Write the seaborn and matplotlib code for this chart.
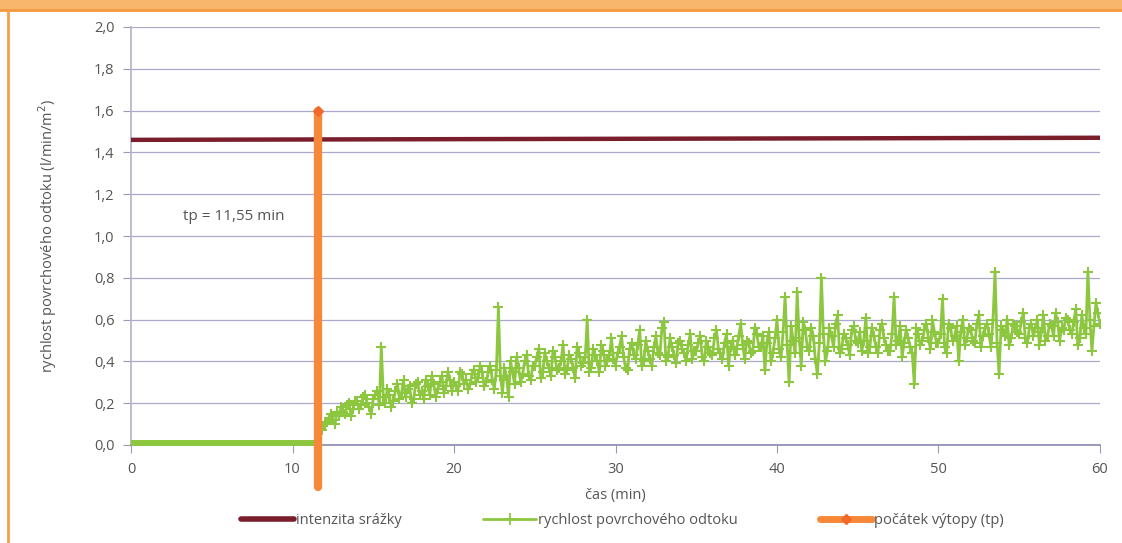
import numpy as np
import pandas as pd
import matplotlib
matplotlib.use("Agg")
import matplotlib.pyplot as plt
import seaborn as sns
from matplotlib.lines import Line2D
from matplotlib.patches import Rectangle

# ---------------- data ----------------
tp = 11.55                       # počátek výtopy (min)
tp_top = 1.6
tp_bottom = -0.2
rain_t = [0.0, 60.0]
rain_v = [1.46, 1.47]            # intenzita srážky

# flat part before ponding (0 .. 11.5 min, every 0.1 min)
t_before = list(np.arange(0.0, 11.51, 0.1))
v_before = [0.0] * len(t_before)

# runoff after ponding: 11.55, 11.8, then every 0.25 min from 12.0
v_after = [
    0.00, 0.07,
    0.10, 0.13, 0.12, 0.16,
    0.18, 0.15, 0.20, 0.17,
    0.21, 0.19, 0.24, 0.18,
    0.22, 0.26, 0.47, 0.20,
    0.24, 0.21, 0.29, 0.25,
    0.23, 0.28, 0.22, 0.30,
    0.26, 0.31, 0.24, 0.29,
    0.27, 0.33, 0.28, 0.31,
    0.30, 0.26, 0.34, 0.31,
    0.29, 0.36, 0.32, 0.35,
    0.30, 0.38, 0.27, 0.66,
    0.25, 0.33, 0.40, 0.29,
    0.37, 0.34, 0.43, 0.31,
    0.38, 0.46, 0.35, 0.40,
    0.33, 0.42, 0.37, 0.48,
    0.36, 0.41, 0.32, 0.44,
    0.39, 0.60, 0.37, 0.43,
    0.35, 0.45, 0.40, 0.51,
    0.38, 0.47, 0.42, 0.36,
    0.49, 0.41, 0.55, 0.40,
    0.45, 0.38, 0.52, 0.43,
    0.59, 0.42, 0.47, 0.39,
    0.50, 0.44, 0.48, 0.41,
    0.45, 0.52, 0.40, 0.47,
    0.43, 0.55, 0.44, 0.49,
    0.38, 0.50, 0.46, 0.58,
    0.41, 0.49, 0.45, 0.53,
    0.47, 0.36, 0.54, 0.44,
    0.60, 0.42, 0.71, 0.30,
    0.50, 0.73, 0.38, 0.55,
    0.45, 0.52, 0.34, 0.80,
    0.40, 0.56, 0.47, 0.62,
    0.46, 0.51, 0.43, 0.57,
    0.49, 0.45, 0.61, 0.47,
    0.52, 0.44, 0.58, 0.48,
    0.45, 0.71, 0.50, 0.42,
    0.55, 0.47, 0.29, 0.53,
    0.50, 0.58, 0.46, 0.54,
    0.49, 0.70, 0.44, 0.56,
    0.52, 0.40, 0.60, 0.51,
    0.55, 0.49, 0.62, 0.52,
    0.58, 0.47, 0.83, 0.34,
    0.55, 0.60, 0.51, 0.57,
    0.53, 0.63, 0.49, 0.58,
    0.56, 0.48, 0.62, 0.52,
    0.57, 0.63, 0.50, 0.55,
    0.60, 0.53, 0.65, 0.51,
    0.56, 0.83, 0.45, 0.68,
    0.58,
]
t_after = [11.55, 11.8] + list(np.arange(12.0, 60.01, 0.25))

# readings between the above samples (12.125, 12.375, ... 59.875)
v_mid = [
    0.11, 0.15, 0.10, 0.14,
    0.16, 0.19, 0.14, 0.21,
    0.17, 0.23, 0.20, 0.15,
    0.24, 0.19, 0.23, 0.27,
    0.18, 0.26, 0.22, 0.31,
    0.27, 0.20, 0.29, 0.24,
    0.22, 0.28, 0.33, 0.23,
    0.30, 0.25, 0.35, 0.26,
    0.28, 0.35, 0.29, 0.27,
    0.34, 0.30, 0.38, 0.28,
    0.35, 0.31, 0.36, 0.33,
    0.37, 0.23, 0.35, 0.42,
    0.30, 0.40, 0.33, 0.38,
    0.42, 0.32, 0.44, 0.37,
    0.45, 0.36, 0.40, 0.34,
    0.43, 0.37, 0.47, 0.38,
    0.42, 0.35, 0.46, 0.40,
    0.48, 0.38, 0.43, 0.41,
    0.44, 0.52, 0.37, 0.46,
    0.43, 0.48, 0.38, 0.50,
    0.41, 0.47, 0.44, 0.56,
    0.40, 0.51, 0.43, 0.49,
    0.46, 0.40, 0.53, 0.45,
    0.49, 0.42, 0.50, 0.44,
    0.51, 0.46, 0.41, 0.53,
    0.47, 0.43, 0.52, 0.48,
    0.50, 0.44, 0.56, 0.47,
    0.52, 0.49, 0.40, 0.51,
    0.46, 0.54, 0.48, 0.57,
    0.44, 0.51, 0.59, 0.47,
    0.56, 0.41, 0.49, 0.53,
    0.45, 0.52, 0.58, 0.44,
    0.53, 0.48, 0.55, 0.50,
    0.54, 0.50, 0.44, 0.56,
    0.47, 0.55, 0.51, 0.45,
    0.53, 0.48, 0.57, 0.49,
    0.51, 0.44, 0.56, 0.48,
    0.55, 0.51, 0.60, 0.49,
    0.53, 0.47, 0.58, 0.50,
    0.57, 0.54, 0.48, 0.56,
    0.50, 0.58, 0.47, 0.56,
    0.53, 0.60, 0.49, 0.57,
    0.52, 0.48, 0.58, 0.54,
    0.59, 0.51, 0.56, 0.52,
    0.60, 0.54, 0.50, 0.58,
    0.52, 0.59, 0.56, 0.61,
    0.55, 0.59, 0.48, 0.62,
    0.53, 0.60, 0.57, 0.63,
]
t_mid = list(np.arange(12.125, 59.9, 0.25))

x_ticks = [0, 10, 20, 30, 40, 50, 60]
y_ticks = [0.0, 0.2, 0.4, 0.6, 0.8, 1.0, 1.2, 1.4, 1.6, 1.8, 2.0]
y_tick_labels = ["0,0", "0,2", "0,4", "0,6", "0,8", "1,0", "1,2", "1,4", "1,6", "1,8", "2,0"]

label_rain = "intenzita srážky"
label_runoff = "rychlost povrchového odtoku"
label_tp = "počátek výtopy (tp)"
annot = "tp = 11,55 min"
xlabel = "čas (min)"
ylabel = "rychlost povrchového odtoku (l/min/m$^2$)"

# ---------------- style ----------------
sns.set_theme(style="white")
plt.rcParams["font.family"] = ["Open Sans", "DejaVu Sans"]

GREEN = "#8dc63f"
MAROON = "#7a1e2c"
ORANGE = "#f7883a"
GRID = "#a9a9cc"
TXT = "#555555"

df = pd.DataFrame({"t": t_before + t_after + t_mid,
                   "v": v_before + v_after + v_mid}).sort_values("t")

fig = plt.figure(figsize=(11.22, 5.43), dpi=100)
ax = fig.add_axes([131 / 1122, (543 - 445) / 543, (1100 - 131) / 1122, (445 - 27) / 543])

# frame decoration
fig.patches.append(Rectangle((0, 1 - 10 / 543), 1, 10 / 543, transform=fig.transFigure,
                             facecolor="#f8b56c", edgecolor="none", zorder=0))
fig.add_artist(Line2D([0, 1], [1 - 10 / 543, 1 - 10 / 543], transform=fig.transFigure,
                      color="#f39a3c", lw=2))
fig.add_artist(Line2D([8 / 1122, 8 / 1122], [0, 1 - 10 / 543], transform=fig.transFigure,
                      color="#f5a04a", lw=2))

for y in y_ticks[1:]:
    ax.axhline(y, color=GRID, lw=0.9, zorder=1)

sns.lineplot(data=df, x="t", y="v", ax=ax, color=GREEN, lw=2.0, marker="+",
             markersize=7.5, markeredgewidth=1.5, markeredgecolor=GREEN,
             estimator=None, sort=False, zorder=3)
sns.lineplot(x=rain_t, y=rain_v, ax=ax, color=MAROON, lw=3.2, estimator=None, zorder=4)
ax.plot([tp, tp], [tp_bottom, tp_top], color=ORANGE, lw=6, solid_capstyle="round",
        clip_on=False, zorder=5)
ax.plot([tp], [tp_top], marker="D", color="#f26a2a", markersize=5, clip_on=False, zorder=6)

ax.text(3.2, 1.095, annot, fontsize=11, color=TXT, va="center")

ax.set_xlim(0, 60)
ax.set_ylim(0, 2.0)
ax.set_xticks(x_ticks)
ax.set_xticklabels([str(v) for v in x_ticks])
ax.set_yticks(y_ticks)
ax.set_yticklabels(y_tick_labels)
ax.tick_params(axis="both", colors=TXT, labelsize=10.5, length=6, width=0.8,
               direction="out", bottom=True, left=True, color="#9a9ab5")
ax.tick_params(axis="y", pad=6)
ax.tick_params(axis="x", pad=6)
for s in ["top", "right"]:
    ax.spines[s].set_visible(False)
ax.spines["left"].set_color("#b5b5c8")
ax.spines["bottom"].set_color("#8c8cb5")
ax.set_xlabel(xlabel, fontsize=10.5, color=TXT, labelpad=8)
ax.set_ylabel(ylabel, fontsize=10.5, color=TXT, labelpad=25)

handles = [
    Line2D([], [], color=MAROON, lw=4),
    Line2D([], [], color=GREEN, lw=2, marker="+", markersize=8, markeredgewidth=1.3),
    Line2D([], [], color=ORANGE, lw=5, marker="D", markersize=5,
           markerfacecolor="#f26a2a", markeredgecolor="#f26a2a"),
]
fig.legend(handles, [label_rain, label_runoff, label_tp], loc="center",
           bbox_to_anchor=(0.555, 22 / 543), ncol=3, frameon=False, fontsize=10.5,
           handlelength=3.6, handletextpad=0.15, columnspacing=5.6,
           labelcolor=TXT)

fig.savefig("out.png", dpi=100, facecolor="white")
